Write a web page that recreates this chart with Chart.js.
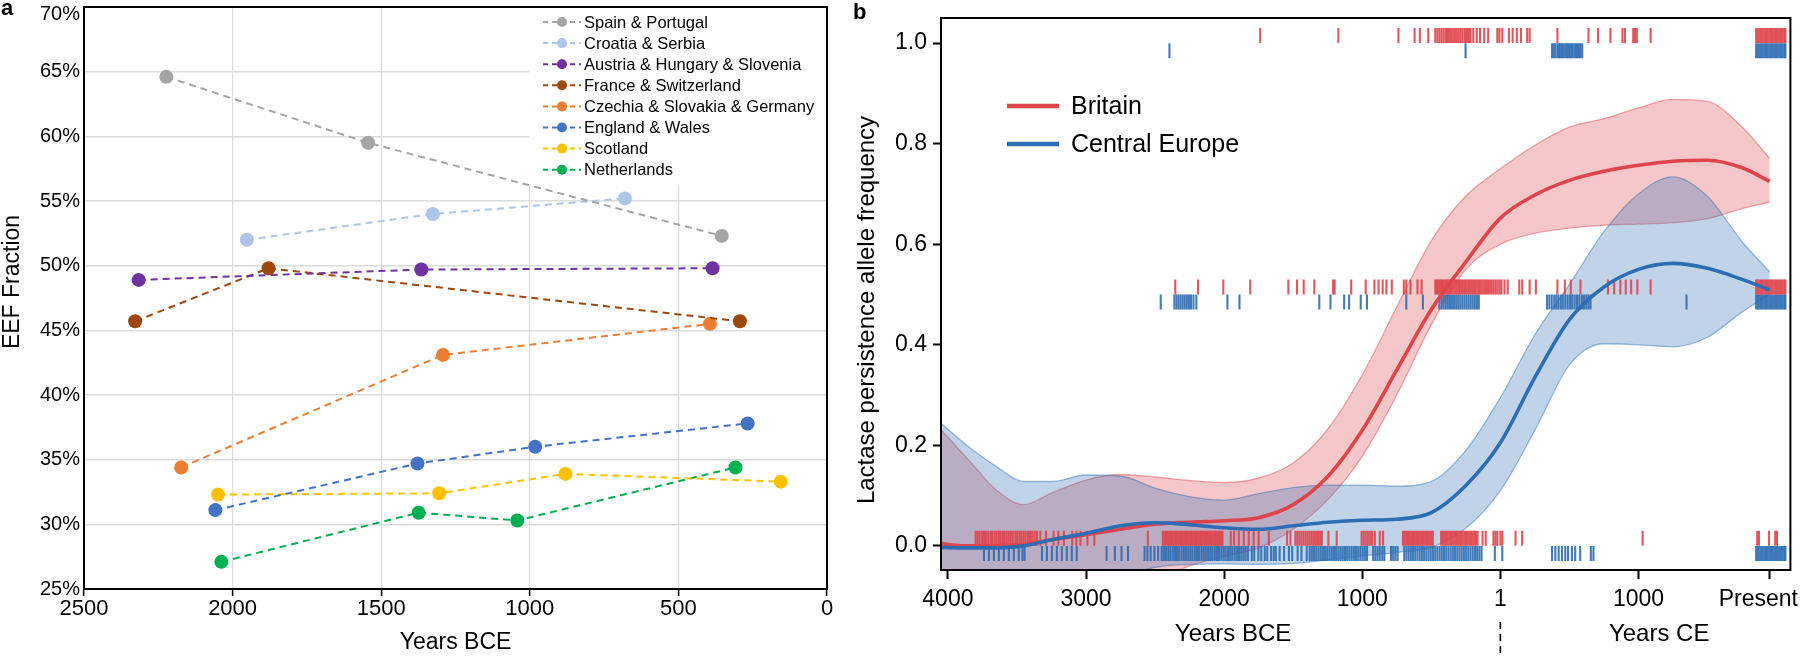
<!DOCTYPE html>
<html>
<head>
<meta charset="utf-8">
<script src="https://cdn.jsdelivr.net/npm/chart.js@4.4.1/dist/chart.umd.min.js"></script>
<style>
html,body{margin:0;padding:0;background:#fff;width:1800px;height:658px;overflow:hidden;font-family:"Liberation Sans",Arial,sans-serif;}
#wa{position:absolute;left:0;top:0;width:840px;height:658px;}
#wb{position:absolute;left:835px;top:0;width:965px;height:658px;}
.lbl{position:absolute;font-weight:bold;font-size:22px;line-height:22px;color:#000;}
</style>
</head>
<body>
<div id="wa"><canvas id="ca" width="840" height="658"></canvas></div>
<div id="wb"><canvas id="cb" width="965" height="658"></canvas></div>
<div class="lbl" style="left:1px;top:-3px">a</div>
<div class="lbl" style="left:853px;top:1px">b</div>
<script>
// ================= Panel a data =================
const regionNames = ["Spain & Portugal","Croatia & Serbia","Austria & Hungary & Slovenia","France & Switzerland","Czechia & Slovakia & Germany","England & Wales","Scotland","Netherlands"];
const regionColors = ["#A5A5A5","#AEC4E8","#7030A0","#9E480E","#ED7D31","#4472C4","#FFC000","#00B050"];
const spainYears = [2223, 1544, 354];
const spainEEF = [64.6, 59.5, 52.3];
const croatiaYears = [1952, 1326, 680];
const croatiaEEF = [52.0, 54.0, 55.2];
const austriaYears = [2316, 1365, 385];
const austriaEEF = [48.9, 49.7, 49.8];
const franceYears = [2328, 1879, 293];
const franceEEF = [45.7, 49.8, 45.7];
const czechiaYears = [2173, 1292, 394];
const czechiaEEF = [34.4, 43.1, 45.5];
const englandYears = [2058, 1378, 982, 267];
const englandEEF = [31.1, 34.7, 36.0, 37.8];
const scotlandYears = [2049, 1305, 880, 156];
const scotlandEEF = [32.3, 32.4, 33.9, 33.3];
const netherlandsYears = [2038, 1374, 1042, 308];
const netherlandsEEF = [27.1, 30.9, 30.3, 34.4];
const eefTicks = [25, 30, 35, 40, 45, 50, 55, 60, 65, 70];
const bceTicks = [2500, 2000, 1500, 1000, 500, 0];

// ================= Panel b data =================
const seriesNames = ["Britain", "Central Europe"];
const seriesColors = ["#E0444B", "#2D6DB3"];
const curveYears = [-4050, -3850, -3650, -3450, -3250, -3000, -2750, -2500, -2250, -2000, -1750, -1500, -1250, -1000, -750, -500, -250, 0, 250, 500, 750, 1000, 1250, 1500, 1750, 1950];
const britainMean  = [0.004, 0.0, 0.0, 0.003, 0.012, 0.022, 0.033, 0.043, 0.047, 0.050, 0.056, 0.082, 0.138, 0.23, 0.35, 0.47, 0.565, 0.652, 0.698, 0.727, 0.745, 0.757, 0.765, 0.767, 0.752, 0.725];
const britainUpper = [0.231, 0.171, 0.111, 0.082, 0.105, 0.131, 0.142, 0.137, 0.130, 0.126, 0.135, 0.165, 0.232, 0.34, 0.475, 0.607, 0.696, 0.75, 0.797, 0.833, 0.850, 0.871, 0.888, 0.884, 0.833, 0.771];
const britainLower = [-0.30, -0.28, -0.25, -0.21, -0.17, -0.13, -0.10, -0.07, -0.04, -0.021, -0.004, 0.033, 0.092, 0.178, 0.30, 0.44, 0.55, 0.60, 0.622, 0.632, 0.638, 0.640, 0.643, 0.651, 0.671, 0.684];
const centralMean  = [-0.003, -0.004, -0.004, 0.0, 0.012, 0.025, 0.040, 0.046, 0.042, 0.036, 0.033, 0.040, 0.047, 0.051, 0.053, 0.066, 0.12, 0.205, 0.335, 0.45, 0.515, 0.55, 0.562, 0.552, 0.53, 0.509];
const centralUpper = [0.244, 0.197, 0.158, 0.128, 0.128, 0.141, 0.139, 0.115, 0.098, 0.091, 0.104, 0.116, 0.121, 0.121, 0.119, 0.128, 0.19, 0.295, 0.42, 0.52, 0.625, 0.70, 0.734, 0.695, 0.605, 0.545];
const centralLower = [-0.32, -0.29, -0.25, -0.20, -0.16, -0.11, -0.065, -0.043, -0.037, -0.036, -0.037, -0.035, -0.028, -0.02, -0.013, -0.003, 0.035, 0.11, 0.23, 0.36, 0.402, 0.40, 0.396, 0.415, 0.465, 0.50];

// sample dates (rug marks), by genotype frequency
const britainHomYears = [-1739, -1173, -738, -621, -583, -522, -471, -456, -441, -426, -411, -396, -385, -375, -363, -351, -336, -321, -306, -291, -276, -261, -249, -237, -226, -216, -196, -171, -147, -117, -88, -22, -7, 14, 62, 89, 119, 149, 194, 212, 413, 638, 707, 797, 884, 902, 962, 975, 988, 1088, 1852, 1864, 1876, 1888, 1900, 1912, 1924, 1936, 1948, 1960, 1972, 1984, 1996, 2008, 2020, 2032, 2044, 2056, 2064];
const centralHomYears = [-2396, -252, 374, 386, 398, 413, 424, 434, 446, 458, 470, 482, 493, 503, 514, 524, 536, 548, 558, 569, 580, 593, 1852, 1864, 1876, 1888, 1900, 1912, 1924, 1936, 1948, 1960, 1972, 1984, 1996, 2008, 2020, 2032, 2044, 2056, 2064];
const britainHetYears = [-2354, -2189, -2006, -1811, -1535, -1472, -1424, -1347, -1211, -1200, -1080, -975, -912, -882, -852, -825, -786, -699, -681, -651, -600, -570, -471, -462, -452, -441, -430, -421, -410, -398, -388, -377, -366, -356, -345, -333, -322, -311, -300, -290, -279, -268, -256, -245, -233, -222, -211, -200, -189, -178, -166, -154, -142, -130, -117, -104, -90, -76, -62, -48, -34, -20, -5, 8, 30, 53, 137, 158, 212, 257, 413, 467, 510, 580, 779, 824, 869, 908, 947, 992, 1088, 1852, 1864, 1876, 1888, 1900, 1912, 1924, 1936, 1948, 1960, 1972, 1984, 1996, 2008, 2020, 2032, 2044, 2056, 2064];
const centralHetYears = [-2459, -2360, -2345, -2330, -2315, -2300, -2285, -2270, -2255, -2240, -2222, -2201, -1976, -1889, -1311, -1230, -1131, -1095, -1011, -966, -681, -561, -441, -425, -410, -395, -380, -365, -350, -335, -320, -305, -290, -275, -260, -245, -230, -215, -200, -185, -170, -156, 338, 355, 372, 390, 405, 420, 437, 452, 470, 487, 505, 520, 538, 555, 572, 590, 605, 622, 638, 653, 1348, 1852, 1864, 1876, 1888, 1900, 1912, 1924, 1936, 1948, 1960, 1972, 1984, 1996, 2008, 2020, 2032, 2044, 2056, 2064];
const britainNonYears = [-3799, -3785, -3770, -3752, -3738, -3725, -3708, -3692, -3680, -3663, -3648, -3632, -3618, -3602, -3590, -3575, -3560, -3545, -3530, -3512, -3498, -3482, -3468, -3452, -3437, -3420, -3405, -3390, -3372, -3355, -3331, -3290, -3235, -3200, -3160, -3100, -3070, -3040, -2990, -2940, -2552, -2444, -2432, -2420, -2408, -2396, -2384, -2372, -2360, -2348, -2336, -2324, -2312, -2300, -2288, -2276, -2264, -2252, -2240, -2228, -2216, -2204, -2192, -2180, -2168, -2156, -2144, -2132, -2120, -2108, -2096, -2084, -2072, -2060, -2048, -2036, -2024, -2012, -1952, -1928, -1894, -1858, -1822, -1786, -1750, -1676, -1544, -1520, -1484, -1470, -1455, -1440, -1425, -1410, -1395, -1380, -1365, -1350, -1335, -1320, -1305, -1293, -1245, -1185, -1005, -990, -975, -960, -945, -930, -909, -873, -849, -705, -693, -681, -669, -657, -645, -633, -621, -609, -597, -585, -573, -561, -549, -537, -525, -513, -501, -489, -429, -417, -405, -393, -381, -369, -357, -345, -333, -321, -309, -297, -285, -273, -261, -249, -237, -225, -213, -201, -189, -177, -165, -129, -106, -50, -36, -22, 0, 14, 110, 158, 1030, 1860, 1872, 1945, 1990, 2003];
const centralNonYears = [-3739, -3703, -3667, -3631, -3595, -3559, -3523, -3487, -3460, -3445, -3319, -3283, -3247, -3211, -3175, -3139, -3103, -3067, -2851, -2791, -2743, -2696, -2576, -2555, -2532, -2505, -2478, -2452, -2436, -2420, -2404, -2389, -2372, -2356, -2341, -2325, -2308, -2292, -2277, -2260, -2244, -2229, -2212, -2196, -2181, -2164, -2148, -2133, -2116, -2100, -2085, -2068, -2052, -2037, -2020, -2004, -1989, -1972, -1956, -1941, -1924, -1908, -1893, -1876, -1860, -1845, -1828, -1800, -1782, -1752, -1731, -1706, -1688, -1660, -1641, -1626, -1598, -1566, -1531, -1507, -1468, -1440, -1402, -1381, -1365, -1349, -1333, -1317, -1301, -1285, -1269, -1253, -1237, -1221, -1205, -1189, -1173, -1157, -1141, -1125, -1109, -1093, -1077, -1061, -1045, -1029, -1013, -997, -981, -965, -921, -905, -889, -873, -855, -840, -792, -776, -760, -744, -696, -680, -664, -648, -632, -616, -600, -584, -568, -552, -536, -520, -504, -488, -472, -456, -440, -424, -408, -392, -376, -360, -344, -328, -312, -296, -280, -264, -248, -232, -216, -200, -184, -168, -152, -136, -40, 14, 374, 398, 422, 446, 470, 490, 518, 542, 578, 655, 674, 1852, 1864, 1876, 1888, 1900, 1912, 1924, 1936, 1948, 1960, 1972, 1984, 1996, 2008, 2020, 2032, 2044, 2056, 2064];
const timeTicks = [-4000, -3000, -2000, -1000, 0, 1000, 1950];
const timeTickLabels = ["4000", "3000", "2000", "1000", "1", "1000", "Present"];
const freqTicks = [0, 0.2, 0.4, 0.6, 0.8, 1.0];

// ================= common =================
Chart.defaults.font.family = "'Liberation Sans', Arial, Helvetica, sans-serif";
Chart.defaults.color = '#000';
Chart.defaults.animation = false;
const FONT = "'Liberation Sans', Arial, Helvetica, sans-serif";

// ================= Panel a =================
const aSeries = [
  [spainYears, spainEEF], [croatiaYears, croatiaEEF], [austriaYears, austriaEEF], [franceYears, franceEEF],
  [czechiaYears, czechiaEEF], [englandYears, englandEEF], [scotlandYears, scotlandEEF], [netherlandsYears, netherlandsEEF]
];
const aDatasets = aSeries.map((s, i) => ({
  label: regionNames[i],
  data: s[0].map((x, k) => ({x: x, y: s[1][k]})),
  borderColor: regionColors[i],
  backgroundColor: regionColors[i],
  borderWidth: 2,
  borderDash: [7, 5],
  pointRadius: 7,
  pointHoverRadius: 7,
  pointBorderWidth: 0,
  pointBackgroundColor: regionColors[i],
  tension: 0,
  fill: false
}));

const panelAPlugin = {
  id: 'panelA',
  afterDraw(chart) {
    const {ctx, chartArea: ca, scales: {y}} = chart;
    ctx.save();
    // legend
    ctx.fillStyle = '#fff';
    ctx.fillRect(529, 8, ca.right - 529 - 1, 178);
    chart.data.datasets.forEach((ds, i) => {
      const yy = 22 + i * 21.1;
      ctx.strokeStyle = ds.borderColor;
      ctx.lineWidth = 2;
      ctx.setLineDash([5, 4]);
      ctx.beginPath(); ctx.moveTo(543, yy); ctx.lineTo(581, yy); ctx.stroke();
      ctx.setLineDash([]);
      ctx.fillStyle = ds.borderColor;
      ctx.beginPath(); ctx.arc(562, yy, 5, 0, Math.PI * 2); ctx.fill();
      ctx.fillStyle = '#000';
      ctx.font = '16.5px ' + FONT;
      ctx.textAlign = 'left'; ctx.textBaseline = 'middle';
      ctx.fillText(ds.label, 584, yy + 1);
    });
    // frame
    ctx.strokeStyle = '#000'; ctx.lineWidth = 2;
    ctx.strokeRect(ca.left, ca.top, ca.right - ca.left, ca.bottom - ca.top);
    // y tick labels
    ctx.fillStyle = '#000';
    ctx.font = '20px ' + FONT;
    ctx.textAlign = 'right'; ctx.textBaseline = 'middle';
    eefTicks.forEach(v => {
      const py = Math.max(y.getPixelForValue(v), ca.top + 7);
      ctx.fillText(v + '%', ca.left - 4, py);
    });
    // y title
    ctx.save();
    ctx.translate(13, 282);
    ctx.rotate(-Math.PI / 2);
    ctx.font = '23px ' + FONT;
    ctx.textAlign = 'center'; ctx.textBaseline = 'middle';
    ctx.fillText('EEF Fraction', 0, 0);
    ctx.restore();
    ctx.restore();
  }
};

new Chart(document.getElementById('ca'), {
  type: 'line',
  data: {datasets: aDatasets},
  options: {
    responsive: false,
    animation: false,
    events: [],
    layout: {padding: {top: 6, right: 13, left: 0, bottom: 0}},
    plugins: {legend: {display: false}, tooltip: {enabled: false}},
    scales: {
      x: {
        type: 'linear', reverse: true, min: 0, max: 2500,
        afterBuildTicks: s => { s.ticks = bceTicks.map(v => ({value: v})); },
        afterFit: s => { s.height = 69; s.paddingLeft = 0; s.paddingRight = 0; },
        ticks: {font: {size: 22}, padding: 0, maxRotation: 0, autoSkip: false, callback: v => String(v)},
        grid: {color: '#DCDCDC', lineWidth: 1.2, tickColor: '#000', tickLength: 7, tickWidth: 1.5},
        border: {display: false},
        title: {display: true, text: 'Years BCE', font: {size: 23}, padding: {top: 0, bottom: 2}}
      },
      y: {
        type: 'linear', min: 25, max: 70,
        afterBuildTicks: s => { s.ticks = eefTicks.map(v => ({value: v})); },
        afterFit: s => { s.width = 84; s.paddingTop = 0; s.paddingBottom = 0; },
        ticks: {display: false},
        grid: {color: '#DCDCDC', lineWidth: 1.5, drawTicks: false},
        border: {display: false}
      }
    }
  },
  plugins: [panelAPlugin]
});

// ================= Panel b =================
const rgba = (hex, a) => {
  const n = parseInt(hex.slice(1), 16);
  return `rgba(${(n >> 16) & 255},${(n >> 8) & 255},${n & 255},${a})`;
};
const curve = (vals) => curveYears.map((x, i) => ({x: x, y: vals[i]}));
const RUG_OFF = 0.015;
const rug = (years, g, side, color, order) => ({
  data: years.map(x => ({x: x, y: g + side * RUG_OFF})),
  showLine: false,
  pointStyle: 'line',
  pointRotation: 90,
  pointRadius: 7.5,
  pointHoverRadius: 7.5,
  pointBorderWidth: 2.1,
  pointBorderColor: rgba(color, 0.9),
  pointBackgroundColor: rgba(color, 0.9),
  order: order,
  isRug: true
});
const red = seriesColors[0], blue = seriesColors[1];
const band = (vals, color, fill, order) => ({
  data: curve(vals),
  borderColor: rgba(color, 0.45),
  borderWidth: 1.3,
  backgroundColor: rgba(color, 0.3),
  pointRadius: 0,
  pointHoverRadius: 0,
  cubicInterpolationMode: 'monotone',
  fill: fill,
  order: order
});
const bDatasets = [
  band(britainUpper, red, '+1', 9),   // 0
  band(britainLower, red, false, 9),  // 1
  band(centralUpper, blue, '+1', 8),  // 2
  band(centralLower, blue, false, 8), // 3
  rug(britainHomYears, 1, 1, red, 5),
  rug(centralHomYears, 1, -1, blue, 5),
  rug(britainHetYears, 0.5, 1, red, 5),
  rug(centralHetYears, 0.5, -1, blue, 5),
  rug(britainNonYears, 0, 1, red, 5),
  rug(centralNonYears, 0, -1, blue, 5),
  {label: seriesNames[0], data: curve(britainMean), borderColor: red, borderWidth: 3.6, pointRadius: 0, pointHoverRadius: 0, cubicInterpolationMode: 'monotone', fill: false, order: 2, isMean: true},
  {label: seriesNames[1], data: curve(centralMean), borderColor: blue, borderWidth: 3.6, pointRadius: 0, pointHoverRadius: 0, cubicInterpolationMode: 'monotone', fill: false, order: 1, isMean: true}
];

const panelBPlugin = {
  id: 'panelB',
  afterDraw(chart) {
    const {ctx, chartArea: ca, scales: {x}} = chart;
    const W = chart.width;
    ctx.save();
    // frame
    ctx.strokeStyle = '#000'; ctx.lineWidth = 2;
    ctx.strokeRect(ca.left, ca.top, ca.right - ca.left, ca.bottom - ca.top);
    // legend
    const means = chart.data.datasets.filter(d => d.isMean);
    means.forEach((ds, i) => {
      const yy = ca.top + 88 + i * 38;
      ctx.strokeStyle = ds.borderColor; ctx.lineWidth = 4.5;
      ctx.beginPath(); ctx.moveTo(ca.left + 66, yy); ctx.lineTo(ca.left + 118, yy); ctx.stroke();
      ctx.fillStyle = '#000';
      ctx.font = '25px ' + FONT;
      ctx.textAlign = 'left'; ctx.textBaseline = 'middle';
      ctx.fillText(ds.label, ca.left + 130, yy + 1);
    });
    // x tick labels
    ctx.font = '23px ' + FONT;
    ctx.textAlign = 'center'; ctx.textBaseline = 'middle';
    ctx.fillStyle = '#000';
    timeTicks.forEach((v, i) => {
      const t = timeTickLabels[i];
      const w = ctx.measureText(t).width;
      let px = x.getPixelForValue(v);
      px = Math.min(px, W - 2 - w / 2);
      ctx.fillText(t, px, 600);
    });
    // era labels
    ctx.font = '24px ' + FONT;
    ctx.fillText('Years BCE', x.getPixelForValue(-1935), 634);
    ctx.fillText('Years CE', x.getPixelForValue(1150), 634);
    // dashed era divider
    const x0 = x.getPixelForValue(0);
    ctx.strokeStyle = '#000'; ctx.lineWidth = 1.6; ctx.setLineDash([7, 5]);
    ctx.beginPath(); ctx.moveTo(x0, 622); ctx.lineTo(x0, 658); ctx.stroke();
    ctx.setLineDash([]);
    // y title
    ctx.save();
    ctx.translate(32, 310);
    ctx.rotate(-Math.PI / 2);
    ctx.font = '24px ' + FONT;
    ctx.textAlign = 'center'; ctx.textBaseline = 'middle';
    ctx.fillText('Lactase persistence allele frequency', 0, 0);
    ctx.restore();
    ctx.restore();
  }
};

new Chart(document.getElementById('cb'), {
  type: 'line',
  data: {datasets: bDatasets},
  options: {
    responsive: false,
    animation: false,
    events: [],
    layout: {padding: {top: 18, right: 4, left: 0, bottom: 0}},
    plugins: {legend: {display: false}, tooltip: {enabled: false}, filler: {propagate: false}},
    scales: {
      x: {
        type: 'linear', min: -4050, max: 2100,
        afterBuildTicks: s => { s.ticks = timeTicks.map(v => ({value: v})); },
        afterFit: s => { s.height = 88; s.paddingLeft = 0; s.paddingRight = 0; },
        ticks: {display: false},
        grid: {drawOnChartArea: false, drawTicks: true, tickLength: 9, tickWidth: 2, tickColor: '#000'},
        border: {display: false}
      },
      y: {
        type: 'linear', min: -0.048, max: 1.05,
        afterBuildTicks: s => { s.ticks = freqTicks.map(v => ({value: v})); },
        afterFit: s => { s.width = 106; s.paddingTop = 0; s.paddingBottom = 0; },
        ticks: {font: {size: 23}, padding: 6, callback: v => Number(v).toFixed(1)},
        grid: {drawOnChartArea: false, drawTicks: true, tickLength: 8, tickWidth: 2, tickColor: '#000'},
        border: {display: false}
      }
    }
  },
  plugins: [panelBPlugin]
});
</script>
</body>
</html>
